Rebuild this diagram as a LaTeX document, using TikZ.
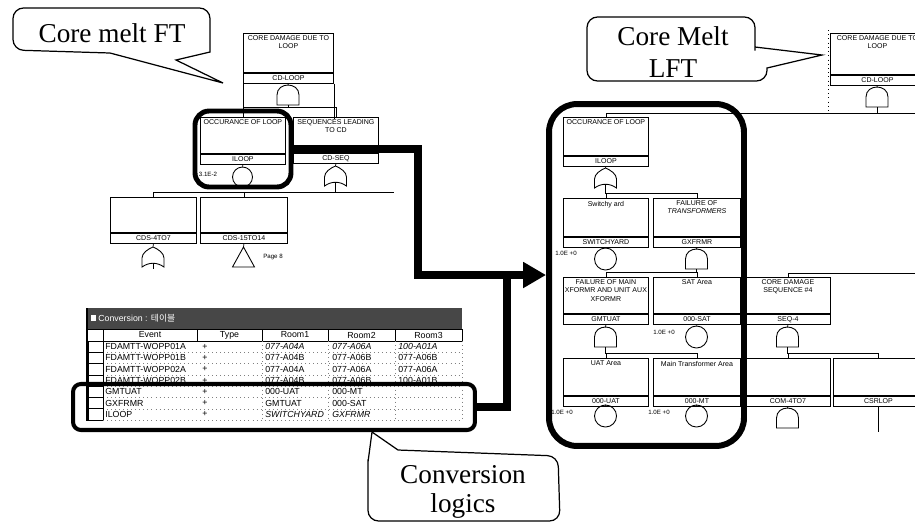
\documentclass[tikz,border=0pt]{standalone}
\usepackage{fontspec}
\setmainfont{Liberation Serif}
\setsansfont{Liberation Sans}
\newfontfamily\krfont{Noto Sans CJK KR}
\usetikzlibrary{arrows.meta}

\begin{document}
\begin{tikzpicture}[x=0.02cm, y=-0.02cm,
	evbox/.style={draw, anchor=north west, inner sep=0pt, line width=0.5pt},
	idbox/.style={draw, anchor=north, inner sep=0pt, minimum height=0.2cm, line width=0.5pt, font=\sffamily\fontsize{4}{4}\selectfont},
	desc/.style={anchor=north, align=center, inner sep=1.5pt, font=\sffamily\fontsize{4}{4.6}\selectfont},
	bev/.style={draw, circle, minimum size=0.44cm, inner sep=0pt, line width=0.5pt},
	val/.style={inner sep=0pt, font=\sffamily\fontsize{3.5}{4}\selectfont},
	callout/.style={draw, line width=0.7pt},
	calltext/.style={anchor=base, inner sep=0pt, font=\fontsize{15.5}{18}\selectfont},
	hl/.style={draw, inner sep=0pt},
	bigline/.style={line width=4.3pt},
	cell/.style={anchor=west, inner sep=0pt, font=\sffamily\fontsize{5}{5}\selectfont},
	head/.style={inner sep=0pt, font=\sffamily\fontsize{5}{5}\selectfont},
	rowline/.style={gray, dotted, line width=0.3pt},
	andgate/.pic={\draw[line width=0.5pt] (-11,20) -- (-11,10) .. controls (-11,-3.3) and (11,-3.3) .. (11,10) -- (11,20) -- cycle;
		\coordinate (-top) at (0,0); \coordinate (-in) at (0,20);},
	orgate/.pic={\draw[line width=0.5pt] (-11,20) -- (-11,11) .. controls (-11,6) and (-5,2) .. (0,0) .. controls (5,2) and (11,6) .. (11,11) -- (11,20) .. controls (4,15) and (-4,15) .. (-11,20) -- cycle;
		\coordinate (-top) at (0,0); \coordinate (-in) at (0,16);},
	transfer/.pic={\draw[line width=0.5pt] (0,0) -- (11,20) -- (-11,20) -- cycle;
		\coordinate (-top) at (0,0);}]
	\path[use as bounding box, clip] (0,0) rectangle (915,525);
	\def\evt#1#2#3#4#5#6{
		\node[evbox, minimum width=#3*0.02cm, minimum height=#4*0.02cm, label={[desc]north:#5}] (#1) at #2 {};
		\node[idbox, minimum width=#3*0.02cm] (#1id) at (#1.south) {#6};
	}
	
	\evt{lcd}{(243,33)}{90}{39}{CORE DAMAGE DUE TO\\LOOP}{CD-LOOP}
	\evt{lil}{(200,117)}{85}{36}{OCCURANCE OF LOOP}{ILOOP}
	\evt{lseq}{(293,117)}{85}{35}{SEQUENCES LEADING\\TO CD}{CD-SEQ}
	\evt{lc47}{(110,197)}{86}{35}{}{CDS-4TO7}
	\evt{lc15}{(200,197)}{87}{35}{}{CDS-15TO14}
	\pic (lg1) at (288,85) {andgate};
	\node[bev, minimum size=0.4cm] (lilev) at (242.5,177) {};
	\pic (lg2) at (335.5,166) {orgate};
	\pic (lg3) at (153,247) {orgate};
	\pic (lt1) at (243.5,247) {transfer};
	\node[val] (lilp) at (208,174) {3.1E-2};
	\node[val] (lpage) at (273,257) {Page 8};
	\draw (lcdid.south) -- (lg1-top);
	\draw (lg1-in) -- ++(0,2) -| (lil.north);
	\draw (lg1-in) ++(0,2) -| (lseq.north);
	\draw (lcdid.south west) -- ++(0,25);
	\draw (lcdid.south east) -- ++(0,35);
	\draw (lilid.south) -- (lilev.north);
	\draw (lseqid.south) -- (lg2-top);
	\draw (lg2-in) -- ++(0,10) -| (lc47.north);
	\draw (lg2-in) ++(0,10) -| (lc15.north);
	\draw (lg2-in) ++(0,10) -- ++(58,0);
	\draw (lc47id.south) -- (lg3-top);
	\draw (lg3-in) -- ++(0,6);
	\draw (lc15id.south) -- (lt1-top);
	
	\evt{rcd}{(830,33)}{94}{41}{CORE DAMAGE DUE TO\\LOOP}{CD-LOOP}
	\evt{ril}{(563,117)}{85}{38}{OCCURANCE OF LOOP}{ILOOP}
	\evt{rsw}{(563,198)}{85}{38}{Switchy ard}{SWITCHYARD}
	\evt{rgx}{(653,198)}{87}{38}{FAILURE OF\\\textit{TRANSFORMERS}}{GXFRMR}
	\evt{rgm}{(563,277)}{85}{36}{FAILURE OF MAIN\\XFORMR AND UNIT AUX\\XFORMR}{GMTUAT}
	\evt{rsat}{(653,277)}{87}{36}{SAT Area}{000-SAT}
	\evt{rseq}{(745,277)}{85}{36}{CORE DAMAGE\\SEQUENCE \#4}{SEQ-4}
	\evt{ruat}{(563,358)}{85}{37}{UAT Area}{000-UAT}
	\evt{rmt}{(653,358)}{87}{37}{Main Transformer Area}{000-MT}
	\evt{rcom}{(745,358)}{85}{37}{}{COM-4TO7}
	\evt{rcsr}{(833,358)}{90}{37}{}{CSRLOP}
	\pic (rg1) at (877,87) {andgate};
	\pic (rg2) at (605.5,168) {orgate};
	\pic (rg3) at (696.5,249) {andgate};
	\pic (rg4) at (605.5,327) {andgate};
	\pic (rg5) at (787.5,327) {andgate};
	\pic (rg6) at (787.5,408) {andgate};
	\node[bev] (rswev) at (605.5,259) {};
	\node[bev] (rsatev) at (696.5,337) {};
	\node[bev] (ruatev) at (605.5,416) {};
	\node[bev] (rmtev) at (696.5,416) {};
	\node[val] (rswp) at (566,253) {1.0E +0};
	\node[val] (rsatp) at (664,332) {1.0E +0};
	\node[val] (ruatp) at (562,412) {1.0E +0};
	\node[val] (rmtp) at (659,412) {1.0E +0};
	\draw[dotted] (828,30) -- (828,113);
	\draw (rcdid.south) -- (rg1-top);
	\draw (rg1-in) -- ++(0,6) -| (ril.north);
	\draw (rg1-in) ++(0,6) -- ++(40,0);
	\draw (rilid.south) -- (rg2-top);
	\draw (rg2-in) -- ++(0,9) -| (rsw.north);
	\draw (rg2-in) ++(0,9) -| (rgx.north);
	\draw (rswid.south) -- (rswev.north);
	\draw (rgxid.south) -- (rg3-top);
	\draw (rg3-in) -- ++(0,3) -| (rgm.north);
	\draw (rg3-in) ++(0,3) -| (rsat.north);
	\draw (rseq.north) -- ++(0,-4) -- ++(135,0);
	\draw (rgmid.south) -- (rg4-top);
	\draw (rsatid.south) -- (rsatev.north);
	\draw (rseqid.south) -- (rg5-top);
	\draw (rg4-in) -- ++(0,6) -| (ruat.north);
	\draw (rg4-in) ++(0,6) -| (rmt.north);
	\draw (rg5-in) -- ++(0,6) -| (rcom.north);
	\draw (rg5-in) ++(0,6) -| (rcsr.north);
	\draw (ruatid.south) -- (ruatev.north);
	\draw (rmtid.south) -- (rmtev.north);
	\draw (rcomid.south) -- (rg6-top);
	\draw (rcsrid.south) -- ++(0,25);
	
	\fill[black!72] (87,308) rectangle (462,329);
	\fill[white] (91,315) rectangle (96,321);
	\node[cell, text=white] (tbtitle) at (98,318) {Conversion : {\krfont 테이블}};
	\draw[line width=0.5pt] (87,329) rectangle (462,341);
	\foreach \cx in {103,197,262,328,395}
		\draw[line width=0.5pt] (\cx,329) -- (\cx,341);
	\node[head] (hev) at (150,335) {Event};
	\node[head] (hty) at (229.5,335) {Type};
	\node[head] (hr1) at (295,335) {Room1};
	\node[head] (hr2) at (361.5,335) {Room2};
	\node[head] (hr3) at (428.5,335) {Room3};
	\foreach \i/\ev/\ra/\rb/\rc/\sh in {1/FDAMTT-WOPP01A/077-A04A/077-A06A/100-A01A/\itshape,
		2/FDAMTT-WOPP01B/077-A04B/077-A06B/077-A06B/\upshape,
		3/FDAMTT-WOPP02A/077-A04A/077-A06A/077-A06A/\upshape,
		4/FDAMTT-WOPP02B/077-A04B/077-A06B/100-A01B/\upshape,
		5/GMTUAT/000-UAT/000-MT//\upshape,
		6/GXFRMR/GMTUAT/000-SAT//\upshape,
		7/ILOOP/SWITCHYARD/GXFRMR//\itshape}{
		\pgfmathsetmacro\ry{341+11.3*(\i-1)}
		\draw[line width=0.4pt] (88,\ry) rectangle ++(15,11.3);
		\draw[rowline] (103,{\ry+11.3}) -- (462,{\ry+11.3});
		\node[cell] (ev\i) at (105,{\ry+5.65}) {\ev};
		\node[cell] (ty\i) at (202,{\ry+5.65}) {+};
		\node[cell] (ra\i) at (265,{\ry+5.65}) {\sh\ra};
		\node[cell] (rb\i) at (332,{\ry+5.65}) {\sh\rb};
		\node[cell] (rc\i) at (398,{\ry+5.65}) {\sh\rc};
	}
	\foreach \cx in {262,328,395,462}
		\draw[rowline] (\cx,341) -- (\cx,420);
	\draw[line width=0.5pt] (103,341) -- (103,420);
	\draw[line width=1.5pt] (87,308) -- (87,421);
	
	\node[hl, minimum width=1.92cm, minimum height=1.52cm, line width=2.8pt, rounded corners=8pt] (hll) at (243,149) {};
	\node[hl, minimum width=3.9cm, minimum height=6.84cm, line width=3.4pt, rounded corners=16pt] (hlr) at (646.5,275) {};
	\node[hl, minimum width=8.04cm, minimum height=0.92cm, line width=2.3pt, rounded corners=4.5pt] (hlt) at (274,407) {};
	\coordinate (turn) at (418,275);
	\coordinate (join) at (507,275);
	\draw[bigline] (hlt.east) -| (join);
	\draw[bigline, -{Triangle[length=13pt,width=14pt]}] (hll.east) -| (turn) -- (hlr.west);
	
	\draw[callout] (223,83) -- (110,53) [rounded corners=6pt] -- (13,50) -- (13,8) -- (210,8) -- (210,40) [sharp corners] -- (210,52) -- (176,60) -- cycle;
	\node[calltext] (cmft) at (112,42) {Core melt FT};
	\draw[callout] (822,55) -- (767,68) [rounded corners=6pt] -- (767,81) -- (587,81) -- (587,17) -- (755,17) -- (755,40) [sharp corners] -- (755,47) -- cycle;
	\node[calltext] (cmlft1) at (673,45) {Core Melt};
	\node[calltext] (cmlft2) at (673,77) {LFT};
	\draw[callout] (372,432) -- (398,450) [rounded corners=6pt] -- (558,456) -- (560,521) -- (368,521) -- (368,470) [sharp corners] -- (368,462) -- cycle;
	\node[calltext] (convl1) at (463,483) {Conversion};
	\node[calltext] (convl2) at (463,512) {logics};
\end{tikzpicture}
\end{document}
